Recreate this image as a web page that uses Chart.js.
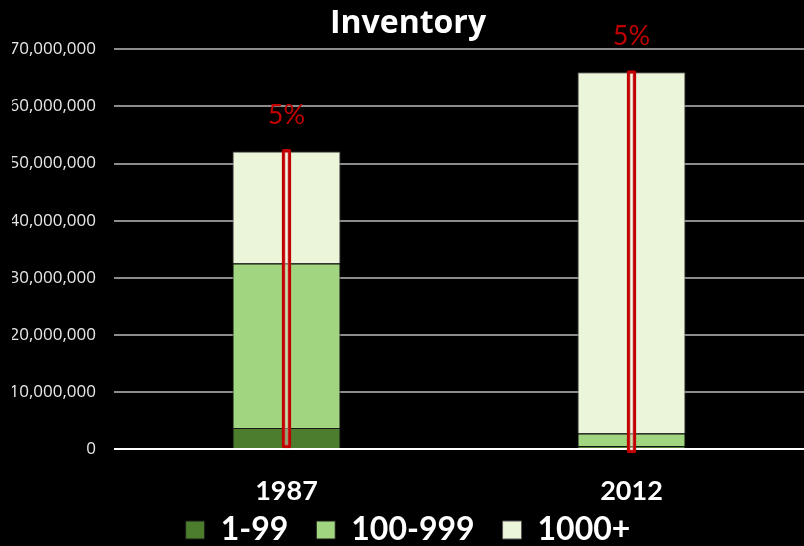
<!DOCTYPE html>
<html>
<head>
<meta charset="utf-8">
<script src="https://cdn.jsdelivr.net/npm/chart.js@4/dist/chart.umd.min.js"></script>
<style>
  html, body { margin: 0; padding: 0; background: #000; }
  #wrap { width: 804px; height: 546px; }
</style>
</head>
<body>
<div id="wrap"><canvas id="c" width="804" height="546"></canvas></div>
<script>
const years = ["1987", "2012"];
const small = [3700000, 500000];       // 1-99
const medium = [28800000, 2200000];    // 100-999
const large = [19600000, 63300000];    // 1000+
const markerRange = [[0, 52500000], [-700000, 66300000]];
const markerLabels = ["5%", "5%"];
const yTicks = [0, 10000000, 20000000, 30000000, 40000000, 50000000, 60000000, 70000000];

const markerText = {
  id: "markerText",
  afterDatasetsDraw(chart) {
    const ctx = chart.ctx;
    const meta = chart.getDatasetMeta(3);
    ctx.save();
    ctx.fillStyle = "#c00000";
    ctx.font = "27px Lato, 'Open Sans', sans-serif";
    ctx.textAlign = "center";
    ctx.textBaseline = "middle";
    meta.data.forEach((bar, i) => {
      ctx.fillText(markerLabels[i], bar.x, bar.y - 34);
    });
    ctx.restore();
  }
};

new Chart(document.getElementById("c"), {
  type: "bar",
  data: {
    labels: years,
    datasets: [
      { label: "1-99", data: small, backgroundColor: "#4b7d2c", borderColor: "#1a1a1a", borderWidth: 1, stack: "inv" },
      { label: "100-999", data: medium, backgroundColor: "#a2d57f", borderColor: "#1a1a1a", borderWidth: 1, stack: "inv" },
      { label: "1000+", data: large, backgroundColor: "#ebf5d9", borderColor: "#555", borderWidth: 1, stack: "inv" },
      {
        label: "marker", data: markerRange, xAxisID: "x2", stack: "mark", order: -1,
        backgroundColor: "rgba(255,255,255,0.35)", borderColor: "#c00000",
        borderWidth: 3, barThickness: 9, borderRadius: 2, borderSkipped: false, clip: false
      }
    ]
  },
  options: {
    responsive: false,
    animation: false,
    layout: { padding: { left: 12, right: 0, top: 0, bottom: -10 } },
    datasets: { bar: { barPercentage: 0.313, categoryPercentage: 1, grouped: false } },
    scales: {
      x: {
        stacked: true,
        grid: { display: false },
        border: { display: false },
        ticks: { color: "#fff", font: { family: "Lato, 'Open Sans', sans-serif", size: 27, weight: "bold" }, padding: 18 },
        afterFit: (s) => { s.height = 61; }
      },
      x2: { display: false, offset: true, labels: years },
      y: {
        stacked: true,
        min: 0,
        max: 70000000,
        afterBuildTicks: (axis) => { axis.ticks = yTicks.map(v => ({ value: v })); },
        afterFit: (s) => { s.width = 102; },
        border: { display: false },
        grid: {
          drawTicks: false,
          lineWidth: 2,
          color: (c) => c.tick && c.tick.value === 0 ? "#ffffff" : "#8c8c8c"
        },
        ticks: {
          color: "#e8e8e8",
          padding: 18,
          font: { family: "'Open Sans', sans-serif", size: 17 },
          callback: (v) => Number(v).toLocaleString("en-US")
        }
      }
    },
    plugins: {
      title: {
        display: true,
        text: "Inventory",
        color: "#fff",
        font: { family: "'Open Sans', sans-serif", size: 32, weight: "bold" },
        padding: { top: 5, bottom: 6 }
      },
      legend: {
        position: "bottom",
        labels: {
          color: "#fff",
          boxWidth: 19,
          boxHeight: 18,
          padding: 4,
          font: { family: "Lato, 'Open Sans', sans-serif", size: 32, weight: "bold" },
          filter: (item) => item.datasetIndex < 3,
          generateLabels: (chart) => {
            const items = Chart.defaults.plugins.legend.labels.generateLabels(chart);
            items.forEach((it) => { if (it.datasetIndex < 2) it.text = it.text + "\u2003"; });
            return items;
          }
        }
      },
      tooltip: { enabled: false }
    }
  },
  plugins: [markerText]
});
</script>
</body>
</html>
